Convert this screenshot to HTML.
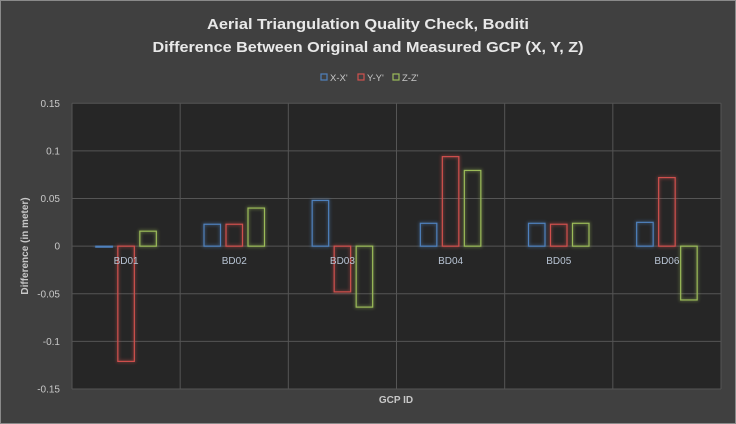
<!DOCTYPE html>
<html><head><meta charset="utf-8">
<style>
html,body{margin:0;padding:0;background:#404040;}
svg{display:block;font-family:"Liberation Sans",sans-serif;}
</style></head>
<body>
<svg id="chart" width="736" height="424" viewBox="0 0 736 424">
<defs>
<filter id="glow" x="-50%" y="-50%" width="200%" height="200%"><feGaussianBlur stdDeviation="1.6"/></filter>
</defs>
<rect x="0.5" y="0.5" width="735" height="423" fill="#404040" stroke="#8a8a8a"/>
<text x="368" y="29" text-anchor="middle" font-size="15" font-weight="bold" fill="#e8e8e8" textLength="322" lengthAdjust="spacingAndGlyphs">Aerial Triangulation Quality Check, Boditi</text>
<text x="368" y="52" text-anchor="middle" font-size="15" font-weight="bold" fill="#e8e8e8" textLength="431" lengthAdjust="spacingAndGlyphs">Difference Between Original and Measured GCP (X, Y, Z)</text>
<g id="legend"></g>
<rect x="72" y="103.3" width="649" height="285.7" fill="#262626"/>
<g id="grid"></g>
<g id="bars"></g>
<g id="labels"></g>
<text transform="translate(28,246) rotate(-90)" text-anchor="middle" font-size="10" font-weight="bold" fill="#c8c8c8">Difference (in meter)</text>
<text x="396" y="403" text-anchor="middle" font-size="10" font-weight="bold" fill="#c8c8c8">GCP ID</text>
</svg>
<script>
const categories = ["BD01","BD02","BD03","BD04","BD05","BD06"];
const seriesNames = ["X-X'","Y-Y'","Z-Z'"];
const xVals = [-0.001, 0.023, 0.048, 0.024, 0.024, 0.025];
const yVals = [-0.121, 0.023, -0.048, 0.094, 0.023, 0.072];
const zVals = [0.0157, 0.040, -0.064, 0.0795, 0.024, -0.0565];
const yTicks = [0.15, 0.1, 0.05, 0, -0.05, -0.1, -0.15];
const yTickLabels = ["0.15","0.1","0.05","0","-0.05","-0.1","-0.15"];

const NS = "http://www.w3.org/2000/svg";
const colors = ["#4f81bd","#d0504d","#9bbb59"];
const L = 72, R = 721, T = 103.3, B = 389;
function yScale(v){ return T + (0.15 - v) / 0.3 * (B - T); }
const bandW = (R - L) / categories.length;
function xCenter(i){ return L + bandW * (i + 0.5); }
function mk(tag, attrs, parent){
  const e = document.createElementNS(NS, tag);
  for (const k in attrs) e.setAttribute(k, attrs[k]);
  parent.appendChild(e);
  return e;
}
const grid = document.getElementById("grid");
yTicks.forEach((t, i) => {
  const y = yScale(t);
  const ln = mk("line", {x1:L, x2:R, y1:y, y2:y, stroke:"#555", "stroke-width":1}, grid);
  
  
  const tx = mk("text", {x:60, y:y+3.5, "text-anchor":"end", "font-size":10, fill:"#c8c8c8"}, grid);
  tx.textContent = yTickLabels[i];
  
  
});
for (let i = 0; i <= categories.length; i++) {
  const x = L + bandW * i;
  const ln = mk("line", {x1:x, x2:x, y1:T, y2:B, stroke:"#555", "stroke-width":1}, grid);
  
  
}
const bars = document.getElementById("bars");
const all = [xVals, yVals, zVals];
const barW = 16.5, stride = 22;
all.forEach((vals, s) => {
  vals.forEach((v, i) => {
    const cx = xCenter(i) + (s - 1) * stride;
    const y0 = yScale(0), y1 = yScale(v);
    const top = Math.min(y0, y1), h = Math.max(Math.abs(y1 - y0), 0.6);
    mk("rect", {x:cx-barW/2, y:top, width:barW, height:h, fill:"none", stroke:colors[s], "stroke-width":2.5, opacity:0.45, filter:"url(#glow)"}, bars);
    const r = mk("rect", {x:cx-barW/2, y:top, width:barW, height:h, fill:"none", stroke:colors[s], "stroke-width":1.2}, bars);
    
    
  });
});
const labels = document.getElementById("labels");
categories.forEach((c, i) => {
  const t = mk("text", {x:xCenter(i), y:yScale(0)+18, "text-anchor":"middle", "font-size":10, fill:"#b8c4d4"}, labels);
  t.textContent = c;
  
  
});
const legend = document.getElementById("legend");
const lx = [321, 358, 393];
seriesNames.forEach((n, s) => {
  const g = mk("g", {}, legend);
  
  
  mk("rect", {x:lx[s], y:74, width:6, height:6, fill:"none", stroke:colors[s], "stroke-width":1.2}, g);
  const t = mk("text", {x:lx[s]+9, y:81, "font-size":9.5, fill:"#c8c8c8"}, g);
  t.textContent = n;
});
</script>
</body></html>
